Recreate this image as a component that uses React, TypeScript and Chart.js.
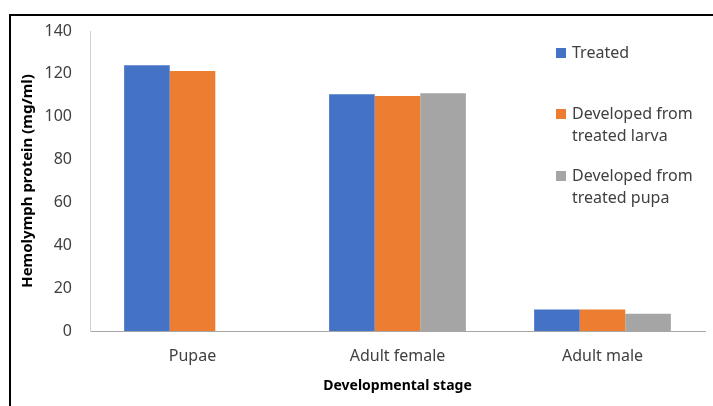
import React, { useEffect, useRef } from "react";
import { Chart, registerables } from "chart.js";

Chart.register(...registerables);

const categories = ["Pupae", "Adult female", "Adult male"];
const treated = [124, 110.5, 10];
const fromLarva = [121.3, 109.7, 10];
const fromPupa = [null, 111, 8];
const seriesNames = ["Treated", "Developed from treated larva", "Developed from treated pupa"];
const legendLines = [["Treated"], ["Developed from", "treated larva"], ["Developed from", "treated pupa"]];
const colors = ["#4472C4", "#ED7D31", "#A5A5A5"];
const yTitle = "Hemolymph protein (mg/ml)";
const xTitle = "Developmental stage";

const FONT = "'Noto Sans', sans-serif";

export default function App() {
  const ref = useRef<HTMLCanvasElement>(null);
  useEffect(() => {
    const ctx = ref.current!;
    const chart = new Chart(ctx, {
      type: "bar",
      data: {
        labels: categories,
        datasets: [treated, fromLarva, fromPupa].map((d, i) => ({
          label: seriesNames[i],
          data: d,
          backgroundColor: colors[i],
          borderWidth: 0,
          categoryPercentage: 0.667,
          barPercentage: 1,
        })),
      },
      options: {
        responsive: false,
        animation: false,
        layout: { padding: { top: 31, right: 8, left: 17, bottom: 0 } },
        plugins: { legend: { display: false }, tooltip: { enabled: false } },
        scales: {
          x: {
            grid: { display: false, drawTicks: false },
            border: { display: true, color: "#a6a6a6", width: 1 },
            ticks: { color: "#404040", font: { family: FONT, size: 16 }, padding: 16 },
            title: {
              display: true,
              text: xTitle,
              color: "#000",
              font: { family: FONT, size: 14, weight: "bold" },
              padding: { top: 4, bottom: 12 },
            },
            afterFit: (s: any) => {
              s.height = 75;
            },
          },
          y: {
            min: 0,
            max: 140,
            grid: { display: false, drawTicks: false },
            border: { display: true, color: "#d0d0d0", width: 1 },
            ticks: { stepSize: 20, color: "#404040", font: { family: FONT, size: 16 }, padding: 18 },
            title: {
              display: true,
              text: yTitle,
              color: "#000",
              font: { family: FONT, size: 15, weight: "bold" },
              padding: { top: 2, bottom: 4 },
            },
            afterFit: (s: any) => {
              s.width = 73;
            },
          },
        },
      },
    });
    return () => chart.destroy();
  }, []);

  const legendTops = [41, 102, 164];
  return (
    <div style={{ position: "fixed", left: 0, top: 0, width: 713, height: 406, background: "#fff" }}>
      <canvas ref={ref} width={713} height={406} style={{ position: "absolute", left: 0, top: 0 }} />
      <div style={{ position: "absolute", left: 10, top: 14, width: 703, height: 2, background: "#000" }} />
      <div style={{ position: "absolute", left: 9, top: 14, width: 2, height: 392, background: "#000" }} />
      {legendLines.map((lines, i) => (
        <div key={i} style={{ position: "absolute", left: 556, top: legendTops[i], fontFamily: FONT, fontSize: 16, lineHeight: "22px", color: "#404040" }}>
          <div style={{ position: "absolute", left: 0, top: 7, width: 10, height: 10, background: colors[i] }} />
          <div style={{ position: "absolute", left: 16, top: 0, whiteSpace: "nowrap" }}>
            {lines.map((l, j) => (
              <div key={j}>{l}</div>
            ))}
          </div>
        </div>
      ))}
    </div>
  );
}
